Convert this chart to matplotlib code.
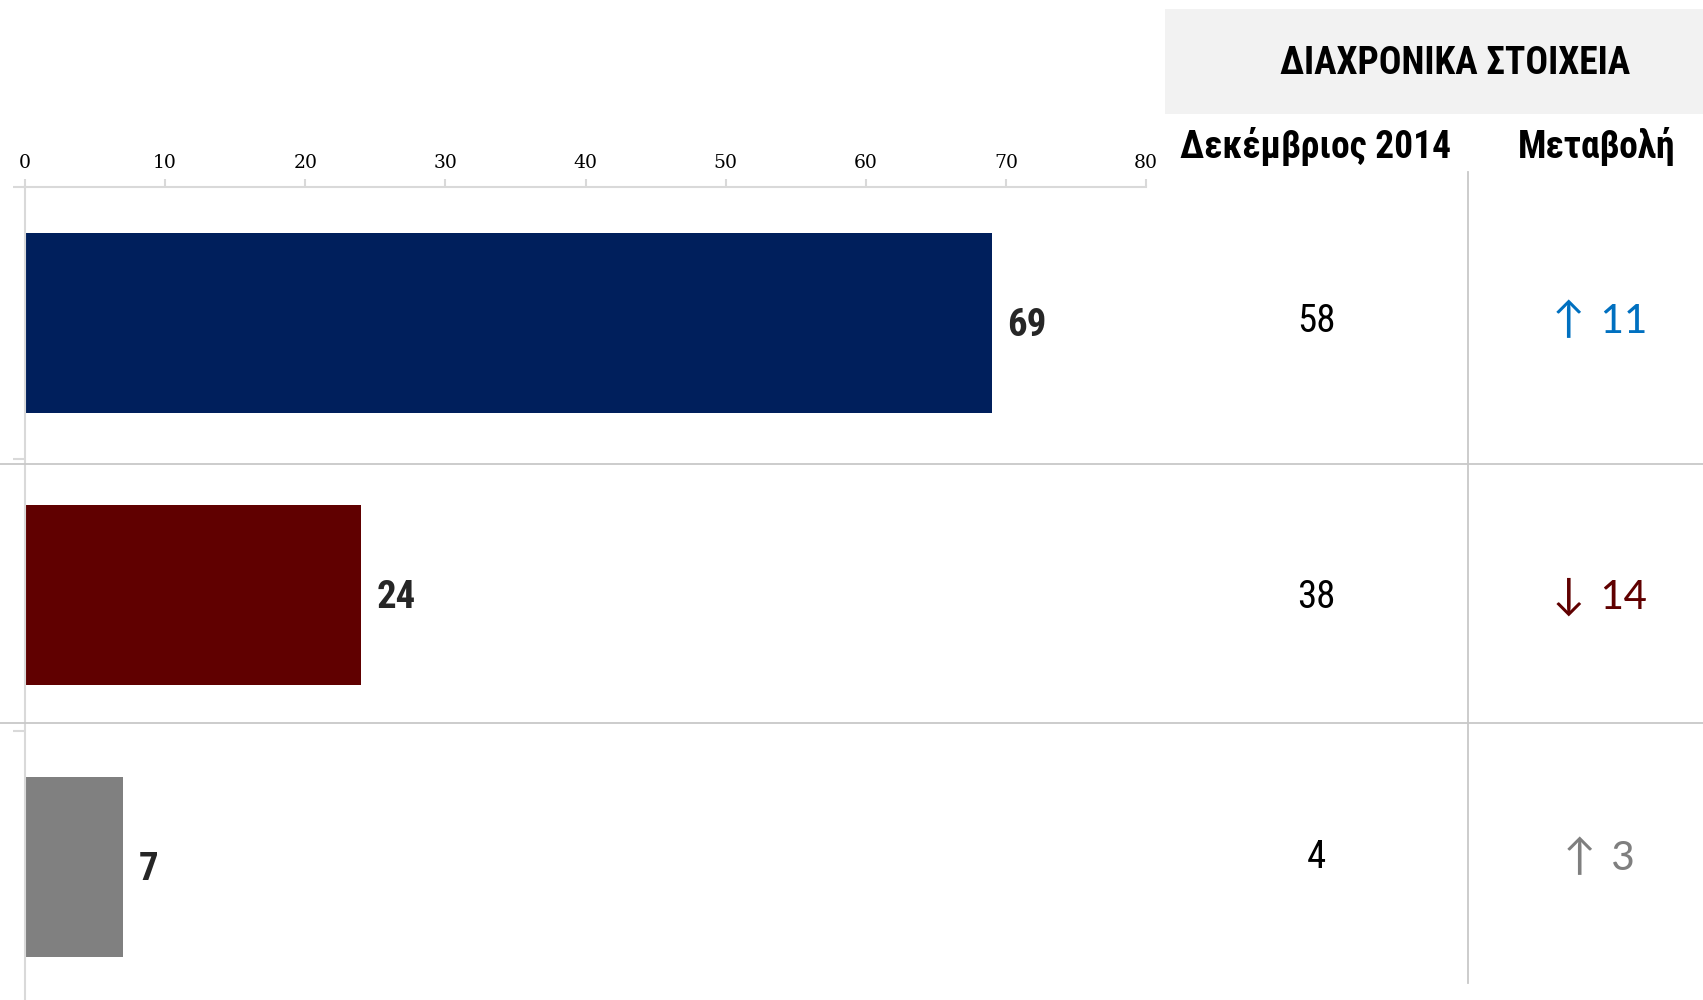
import matplotlib.pyplot as plt
from matplotlib.lines import Line2D
from matplotlib.patches import Rectangle

# data
values = [69, 24, 7]
bar_colors = ['#001f5c', '#600000', '#808080']
prev_label = 'Δεκέμβριος 2014'
prev_values = [58, 38, 4]
changes = [11, -14, 3]
change_colors = ['#0070c0', '#600000', '#7f7f7f']
x_ticks = [0, 10, 20, 30, 40, 50, 60, 70, 80]
header = 'ΔΙΑΧΡΟΝΙΚΑ ΣΤΟΙΧΕΙΑ'
change_label = 'Μεταβολή'

W, H = 1703, 1000
fig = plt.figure(figsize=(W / 100, H / 100), dpi=100)
fig.patch.set_facecolor('white')

narrow = ['Roboto Condensed', 'Liberation Sans', 'DejaVu Sans']
calibri = ['Carlito', 'Lato', 'DejaVu Sans']
grid_col = '#d9d9d9'
line_col = '#c8c8c8'


def fx(px):
    return px / W


def fy(py):
    return 1 - py / H


# bar chart axes
ax = fig.add_axes([fx(25), fy(1003), fx(1146) - fx(25), fy(187) - fy(1003)])
ypos = range(len(values))
ax.barh(ypos, values, height=0.665, color=bar_colors)
ax.set_xlim(0, 80)
ax.set_ylim(2.5, -0.5)
ax.xaxis.tick_top()
ax.set_xticks(x_ticks)
ax.set_xticklabels([str(t) for t in x_ticks], family='DejaVu Serif', fontsize=13.5)
ax.tick_params(axis='x', length=6, color=grid_col, width=1.5, pad=5)
ax.set_yticks([-0.5, 0.5, 1.5])
ax.set_yticklabels([])
ax.tick_params(axis='y', length=9, color=grid_col, width=1.5)
for s in ['right', 'bottom']:
    ax.spines[s].set_visible(False)
for s in ['top', 'left']:
    ax.spines[s].set_color(grid_col)
    ax.spines[s].set_linewidth(1.5)
ax.patch.set_alpha(0)

for i, v in enumerate(values):
    ax.annotate(str(v), (v, i), xytext=(11, -2), textcoords='offset points',
                ha='left', va='center', fontsize=28, fontweight='bold',
                family=narrow, color='#262626')

# table header
fig.add_artist(Rectangle((fx(1165), fy(114)), fx(1703) - fx(1165), fy(9) - fy(114),
                         transform=fig.transFigure, facecolor='#f2f2f2', edgecolor='none'))
fig.text(fx(1455), fy(64), header, ha='center', va='center', fontsize=27,
         fontweight='bold', family=narrow, color='black')
col1_x, col2_x = fx(1316), fx(1597)
fig.text(col1_x, fy(147), prev_label, ha='center', va='center', fontsize=27,
         fontweight='bold', family=narrow, color='black')
fig.text(col2_x, fy(147), change_label, ha='center', va='center', fontsize=27,
         fontweight='bold', family=narrow, color='black')

# table lines
for py in [464, 723]:
    fig.add_artist(Line2D([0, 1], [fy(py), fy(py)], transform=fig.transFigure,
                          color=line_col, lw=1.3))
fig.add_artist(Line2D([fx(1468), fx(1468)], [fy(172), fy(983)], transform=fig.transFigure,
                      color=line_col, lw=1.3))

# table rows
row_y = [321, 597, 858]
for py, pv, ch, c in zip(row_y, prev_values, changes, change_colors):
    fig.text(col1_x, fy(py), str(pv), ha='center', va='center', fontsize=28,
             family=narrow, color='black')
    arrow = '↑' if ch > 0 else '↓'
    fig.text(col2_x, fy(py), f'{arrow} {abs(ch)}', ha='center', va='center',
             fontsize=33, family=calibri, color=c)

fig.savefig('out.png', dpi=100, facecolor='white')
